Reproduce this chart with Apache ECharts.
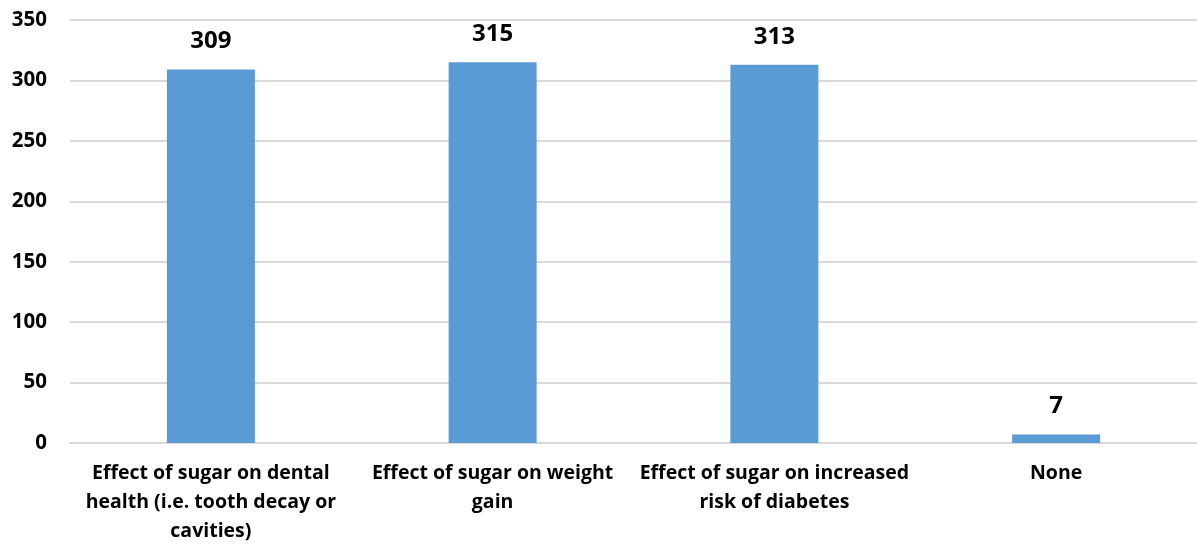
<!DOCTYPE html>
<html>
<head>
<meta charset="utf-8">
<script src="https://cdn.jsdelivr.net/npm/echarts@6/dist/echarts.min.js"></script>
<style>
  html, body { margin: 0; padding: 0; background: #ffffff; }
  #chart { width: 1197px; height: 547px; }
</style>
</head>
<body>
<div id="chart"></div>
<script>
// Awareness topics and respondent counts
const categories = [
  'Effect of sugar on dental\nhealth (i.e. tooth decay or\ncavities)',
  'Effect of sugar on weight\ngain',
  'Effect of sugar on increased\nrisk of diabetes',
  'None'
];
const counts = [309, 315, 313, 7];

const fontFamily = '"Open Sans", Lato, sans-serif';

const chart = echarts.init(document.getElementById('chart'));
chart.setOption({
  animation: false,
  grid: { left: 70, right: 0, top: 20, bottom: 104 },
  xAxis: {
    type: 'category',
    data: categories,
    axisLine: { show: true, lineStyle: { color: '#D9D9D9', width: 2 } },
    axisTick: { show: false },
    axisLabel: {
      interval: 0,
      margin: 16,
      color: '#000000',
      fontFamily: fontFamily,
      fontWeight: 'bold',
      fontSize: 19.5,
      lineHeight: 29
    }
  },
  yAxis: {
    type: 'value',
    min: 0,
    max: 350,
    interval: 50,
    axisLine: { show: false },
    axisTick: { show: false },
    splitLine: { lineStyle: { color: '#D9D9D9', width: 2 } },
    axisLabel: {
      margin: 23,
      color: '#000000',
      fontFamily: fontFamily,
      fontWeight: 'bold',
      fontSize: 20.5
    }
  },
  series: [{
    type: 'bar',
    data: counts,
    barWidth: 88,
    itemStyle: { color: '#5B9BD5' },
    label: {
      show: true,
      position: 'top',
      distance: 16,
      color: '#000000',
      fontFamily: fontFamily,
      fontWeight: 'bold',
      fontSize: 24
    }
  }]
});
</script>
</body>
</html>
